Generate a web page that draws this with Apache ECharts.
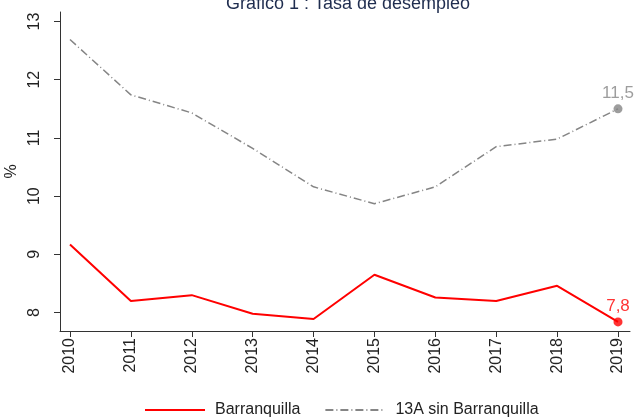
<!DOCTYPE html>
<html>
<head>
<meta charset="utf-8">
<script src="https://cdn.jsdelivr.net/npm/echarts@6/dist/echarts.min.js"></script>
<style>
html, body { margin: 0; padding: 0; background: #fff; }
#main { width: 636px; height: 419px; }
</style>
</head>
<body>
<div id="main"></div>
<script>
// datos
var years = [2010, 2011, 2012, 2013, 2014, 2015, 2016, 2017, 2018, 2019];
var barranquilla = [9.17, 8.20, 8.30, 7.98, 7.89, 8.65, 8.26, 8.20, 8.46, 7.84];
var sinBarranquilla = [12.69, 11.74, 11.43, 10.82, 10.16, 9.87, 10.16, 10.85, 10.98, 11.50];
var yTicks = [8, 9, 10, 11, 12, 13];

function pares(vals) {
	return years.map(function (y, i) { return [y, vals[i]]; });
}
function ultimo(vals) {
	var n = years.length - 1;
	return [[years[n], vals[n]]];
}
function coma(p) {
	return p.value[1].toFixed(1).replace('.', ',');
}

var myChart = echarts.init(document.getElementById('main'));
var fuente = 'Liberation Sans, Arial, sans-serif';

option = {
	backgroundColor: '#fff',
	textStyle: { fontFamily: fuente },
	title: {
		text: 'Gráfico 1 : Tasa de desempleo',
		left: 343,
		textAlign: 'center',
		top: -10,
		textStyle: { color: '#1f2d4f', fontSize: 18, fontWeight: 'normal', fontFamily: fuente }
	},
	legend: {
		bottom: -4,
		left: 139,
		itemWidth: 60,
		itemHeight: 10,
		itemGap: 24,
		itemStyle: { opacity: 0 },
		textStyle: { color: '#222', fontSize: 16, fontFamily: fuente, padding: [0, 0, 0, 5] },
		data: ['Barranquilla', '13A sin Barranquilla']
	},
	grid: { left: 60, right: 6, top: 12, bottom: 88, outerBoundsMode: 'none', containLabel: false },
	xAxis: {
		type: 'value',
		min: 2009.836, max: 2019.197,
		axisLine: { show: true, lineStyle: { color: '#333', width: 1 } },
		axisTick: { show: true, length: 6, lineStyle: { color: '#333' }, customValues: years },
		axisLabel: { rotate: 90, fontSize: 16, color: '#222', margin: 7, customValues: years,
			formatter: function (v) { return String(v); } },
		splitLine: { show: false }
	},
	yAxis: {
		type: 'value',
		min: 7.684, max: 13.163,
		name: '%', nameLocation: 'middle', nameRotate: 90, nameGap: 37,
		nameTextStyle: { fontSize: 16, color: '#222' },
		axisLine: { show: true, lineStyle: { color: '#333', width: 1 } },
		axisTick: { show: true, length: 6, lineStyle: { color: '#333' }, customValues: yTicks },
		axisLabel: { rotate: 90, fontSize: 16, color: '#222', margin: 17, customValues: yTicks },
		splitLine: { show: false }
	},
	series: [
		{
			name: 'Barranquilla',
			type: 'line',
			symbol: 'none',
			color: '#ff0000',
			lineStyle: { color: '#ff0000', width: 2 },
			data: pares(barranquilla)
		},
		{
			name: '13A sin Barranquilla',
			type: 'line',
			symbol: 'none',
			color: '#858585',
			lineStyle: { color: '#858585', width: 1.5, type: [8, 3, 1, 3] },
			data: pares(sinBarranquilla)
		},
		{
			name: 'ultimo1',
			type: 'scatter',
			symbolSize: 9,
			itemStyle: { color: '#ff0000' },
			label: { show: true, position: 'top', distance: 3, color: '#ff0000', fontSize: 17, formatter: coma },
			data: ultimo(barranquilla)
		},
		{
			name: 'ultimo2',
			type: 'scatter',
			symbolSize: 9,
			itemStyle: { color: '#858585' },
			label: { show: true, position: 'top', distance: 3, color: '#858585', fontSize: 17, formatter: coma },
			data: ultimo(sinBarranquilla)
		}
	]
};
myChart.setOption(option);
</script>
</body>
</html>
